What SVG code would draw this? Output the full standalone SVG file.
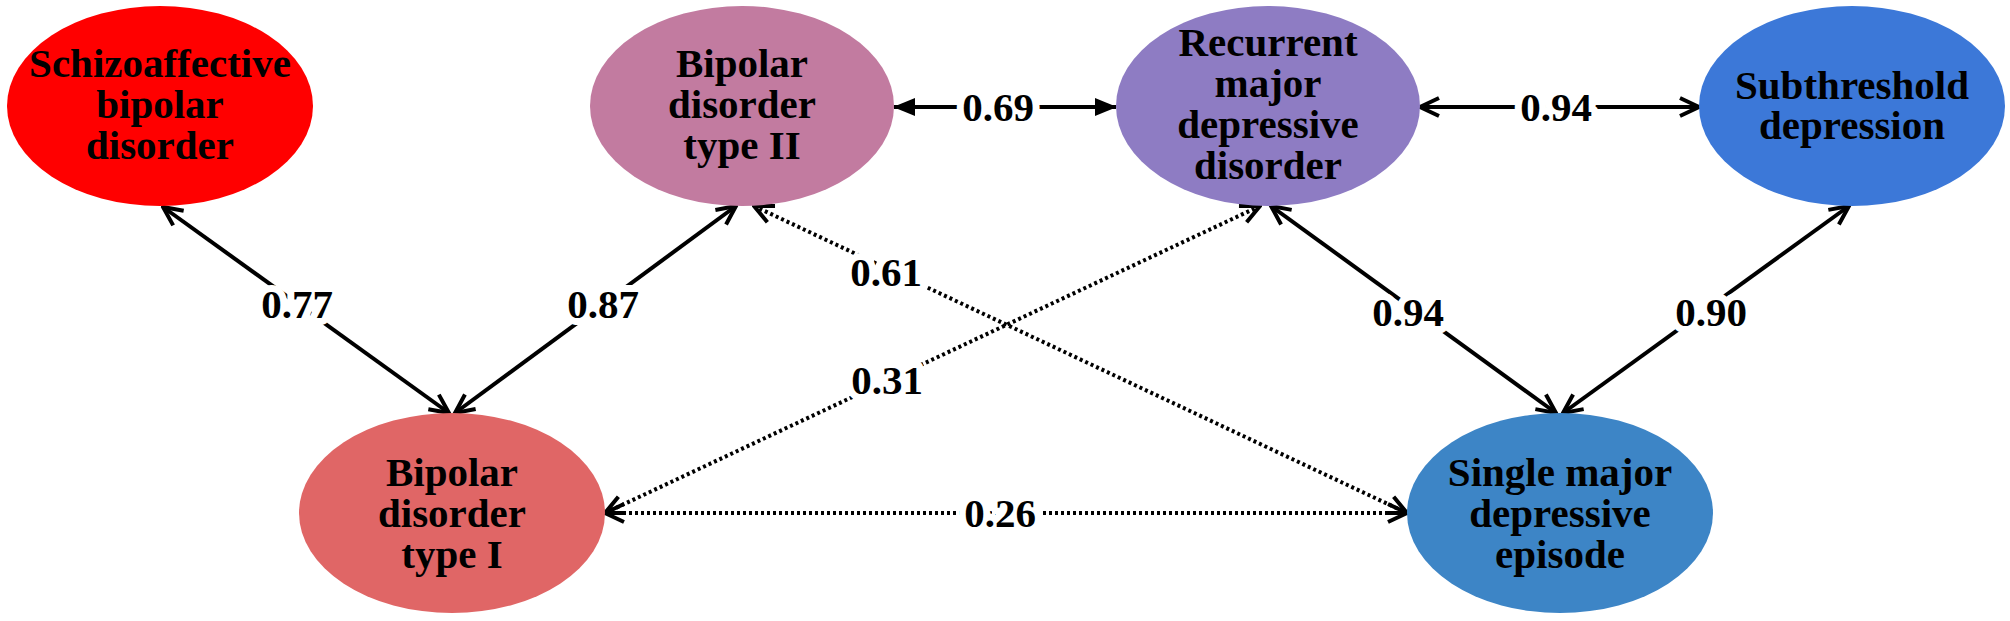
<svg xmlns="http://www.w3.org/2000/svg" width="2010" height="621" viewBox="0 0 2010 621">
<defs>
<style>
.node text{font-family:"Liberation Serif","Times New Roman",serif;font-weight:bold;font-size:41px;text-anchor:middle;fill:#000}
.e{stroke:#000;stroke-width:4;fill:none}
.d{stroke-dasharray:3 3;stroke-width:4}
.lbl{font-family:"Liberation Serif","Times New Roman",serif;font-weight:bold;font-size:41px;text-anchor:middle;fill:#000;stroke:#fff;stroke-width:14;paint-order:stroke;stroke-linejoin:round}
</style>
<marker id="open" viewBox="0 0 24 24" refX="22" refY="12" markerWidth="24" markerHeight="24" markerUnits="userSpaceOnUse" orient="auto-start-reverse">
<path d="M3,3 L22,12 L3,21" fill="none" stroke="#000" stroke-width="4"/>
</marker>
<marker id="fill" viewBox="0 0 24 24" refX="22" refY="12" markerWidth="24" markerHeight="24" markerUnits="userSpaceOnUse" orient="auto-start-reverse">
<path d="M1,3 L23,12 L1,21 Z" fill="#000"/>
</marker>
</defs>
<rect width="2010" height="621" fill="#fff"/>
<g id="connectors">
<line class="e" x1="163" y1="207" x2="449" y2="413" marker-start="url(#open)" marker-end="url(#open)"/>
<line class="e" x1="736" y1="206" x2="455" y2="413" marker-start="url(#open)" marker-end="url(#open)"/>
<line class="e d" x1="754" y1="206" x2="1407" y2="513" marker-start="url(#open)" marker-end="url(#open)"/>
<line class="e d" x1="1260" y1="206" x2="605" y2="513" marker-start="url(#open)" marker-end="url(#open)"/>
<line class="e d" x1="605" y1="513" x2="1407" y2="513" marker-start="url(#open)" marker-end="url(#open)"/>
<line class="e" x1="894" y1="107" x2="1116" y2="107" marker-start="url(#fill)" marker-end="url(#fill)"/>
<line class="e" x1="1420" y1="107" x2="1699" y2="107" marker-start="url(#open)" marker-end="url(#open)"/>
<line class="e" x1="1271" y1="206" x2="1556" y2="413" marker-start="url(#open)" marker-end="url(#open)"/>
<line class="e" x1="1849" y1="206" x2="1563" y2="413" marker-start="url(#open)" marker-end="url(#open)"/>
<text class="lbl" x="297" y="318">0.77</text>
<text class="lbl" x="603" y="318">0.87</text>
<text class="lbl" x="886" y="286">0.61</text>
<text class="lbl" x="887" y="394">0.31</text>
<text class="lbl" x="1000" y="527">0.26</text>
<text class="lbl" x="998" y="121">0.69</text>
<text class="lbl" x="1556" y="121">0.94</text>
<text class="lbl" x="1408" y="326">0.94</text>
<text class="lbl" x="1711" y="326">0.90</text>
</g>
<g id="schizoaffective" class="node">
<ellipse cx="160" cy="106" rx="153" ry="100" fill="#ff0000"/>
<text x="160" y="77">Schizoaffective<tspan x="160" dy="41">bipolar</tspan><tspan x="160" dy="41">disorder</tspan></text>
</g>
<g id="bipolar2" class="node">
<ellipse cx="742" cy="106" rx="152" ry="100" fill="#c27ba0"/>
<text x="742" y="77">Bipolar<tspan x="742" dy="41">disorder</tspan><tspan x="742" dy="41">type II</tspan></text>
</g>
<g id="recurrent" class="node">
<ellipse cx="1268" cy="106" rx="152" ry="100" fill="#8e7cc3"/>
<text x="1268" y="56">Recurrent<tspan x="1268" dy="41">major</tspan><tspan x="1268" dy="41">depressive</tspan><tspan x="1268" dy="41">disorder</tspan></text>
</g>
<g id="subthreshold" class="node">
<ellipse cx="1852" cy="106" rx="153" ry="100" fill="#3c78d8"/>
<text x="1852" y="99">Subthreshold<tspan x="1852" dy="40">depression</tspan></text>
</g>
<g id="bipolar1" class="node">
<ellipse cx="452" cy="513" rx="153" ry="100" fill="#e06666"/>
<text x="452" y="486">Bipolar<tspan x="452" dy="41">disorder</tspan><tspan x="452" dy="41">type I</tspan></text>
</g>
<g id="single" class="node">
<ellipse cx="1560" cy="513" rx="153" ry="100" fill="#3d85c6"/>
<text x="1560" y="486">Single major<tspan x="1560" dy="41">depressive</tspan><tspan x="1560" dy="41">episode</tspan></text>
</g>
</svg>
